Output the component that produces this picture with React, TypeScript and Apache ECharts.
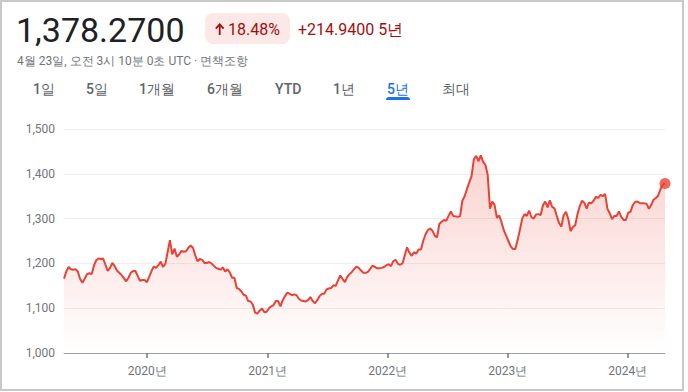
import React, { useEffect, useRef } from "react";
import * as echarts from "echarts";

// ---- data (weekly closes) ----
const startDate = "2019-04-23";
const stepDays = 7;
const closeValues = [
  1166, 1182, 1192, 1187, 1186, 1187, 1182, 1165, 1157, 1166,
  1176, 1178, 1176, 1195, 1207, 1211, 1210, 1211, 1197, 1183,
  1190, 1201, 1194, 1184, 1179, 1174, 1167, 1160, 1168, 1179,
  1183, 1183, 1172, 1161, 1163, 1163, 1158, 1170, 1183, 1193,
  1190, 1196, 1204, 1192, 1199, 1225, 1252, 1220, 1233, 1215,
  1220, 1228, 1226, 1227, 1235, 1240, 1235, 1218, 1205, 1210,
  1208, 1201, 1201, 1203, 1200, 1195, 1190, 1188, 1186, 1191,
  1182, 1187, 1180, 1168, 1168, 1145, 1143, 1138, 1130, 1128,
  1116, 1115, 1108, 1090, 1088, 1095, 1099, 1091, 1092, 1100,
  1104, 1107, 1116, 1116, 1104, 1118, 1127, 1135, 1132, 1129,
  1131, 1129, 1121, 1117, 1116, 1115, 1118, 1125, 1116, 1111,
  1118, 1127, 1132, 1132, 1142, 1144, 1145, 1151, 1150, 1162,
  1173, 1165, 1158, 1170, 1176, 1181, 1187, 1193, 1190, 1184,
  1179, 1179, 1181, 1188, 1195, 1192, 1189, 1189, 1190, 1192,
  1196, 1198, 1194, 1205, 1208, 1199, 1197, 1200, 1218, 1236,
  1224, 1217, 1225, 1222, 1231, 1231, 1250, 1265, 1274, 1278,
  1273, 1262, 1258, 1288, 1293, 1297, 1295, 1306, 1316, 1306,
  1305, 1304, 1305, 1340, 1350, 1366, 1381, 1395, 1433, 1440,
  1428, 1441, 1427, 1420, 1398, 1322, 1338, 1330, 1302, 1307,
  1292, 1274, 1262, 1250, 1238, 1232, 1232, 1252, 1275, 1300,
  1310, 1306, 1318, 1303, 1300, 1309, 1310, 1308, 1330, 1338,
  1325, 1341, 1326, 1323, 1306, 1290, 1282, 1308, 1315, 1299,
  1272, 1281, 1285, 1310, 1328, 1340, 1335, 1322, 1336, 1334,
  1340, 1349, 1346, 1353, 1350, 1355, 1322, 1312, 1299, 1306,
  1306, 1316, 1304, 1297, 1297, 1313, 1315, 1330, 1337, 1338,
  1335, 1334, 1334, 1333, 1322, 1330, 1342, 1346, 1351, 1365,
  1376, 1378.27,
];
const yearTickDates = ["2020-01-01", "2021-01-01", "2022-01-01", "2023-01-01", "2024-01-01"];
const yearTickLabels = ["2020년", "2021년", "2022년", "2023년", "2024년"];
const yMin = 1000;
const yMax = 1500;
const yStep = 100;

const lastPriceText = "1,378.2700";
const changePctText = "18.48%";
const changeAbsText = "+214.9400";
const periodText = "5년";
const timestampText = "4월 23일, 오전 3시 10분 0초 UTC · 면책조항";
const rangeTabs = ["1일", "5일", "1개월", "6개월", "YTD", "1년", "5년", "최대"];
const selectedTab = "5년";

const FONT = "Roboto, Arial, sans-serif";

export default function App() {
  const ref = useRef<HTMLDivElement>(null);

  useEffect(() => {
    document.body.style.margin = "0";
    if (!ref.current) return;
    const chart = echarts.init(ref.current, undefined, { renderer: "svg" });

    const t0 = Date.parse(startDate + "T00:00:00Z");
    const day = 86400000;
    const seriesData = closeValues.map((v, i) => [t0 + i * stepDays * day, v]);
    const last = seriesData[seriesData.length - 1];
    const tickTs = yearTickDates.map((d) => Date.parse(d + "T00:00:00Z"));

    const tabX = [33, 86, 139, 207, 275, 333, 387, 442];
    const tabGraphics: any[] = rangeTabs.map((t, i) => ({
      type: "text",
      x: tabX[i],
      y: 89,
      style: {
        text: t,
        fontFamily: FONT,
        fontSize: 14,
        fontWeight: 500,
        fill: t === selectedTab ? "#1a73e8" : "#5f6368",
        verticalAlign: "middle",
      },
    }));

    chart.setOption({
      animation: false,
      grid: { left: 64, right: 23, top: 129, bottom: 39, outerBoundsMode: "none" },
      xAxis: {
        type: "value",
        min: seriesData[0][0],
        max: last[0],
        axisLine: { show: true, lineStyle: { color: "#9aa0a6", width: 1 } },
        axisTick: {
          show: true,
          length: 5,
          customValues: tickTs,
          lineStyle: { color: "#70757a", width: 1.5 },
        },
        axisLabel: {
          customValues: tickTs,
          margin: 12,
          color: "#70757a",
          fontFamily: FONT,
          fontSize: 12,
          formatter: (v: number) => {
            const idx = tickTs.indexOf(v);
            return idx >= 0 ? yearTickLabels[idx] : "";
          },
        },
        splitLine: { show: false },
      },
      yAxis: {
        type: "value",
        min: yMin,
        max: yMax,
        interval: yStep,
        axisLine: { show: false },
        axisTick: { show: false },
        axisLabel: {
          margin: 9,
          color: "#70757a",
          fontFamily: FONT,
          fontSize: 12,
          formatter: (v: number) => v.toLocaleString("en-US"),
        },
        splitLine: { show: true, lineStyle: { color: "#eeeeee", width: 1 } },
      },
      series: [
        {
          type: "line",
          data: seriesData,
          showSymbol: false,
          symbol: "none",
          lineStyle: { color: "#e94235", width: 2 },
          areaStyle: {
            color: new echarts.graphic.LinearGradient(0, 0, 0, 1, [
              { offset: 0, color: "rgba(234,67,53,0.34)" },
              { offset: 1, color: "rgba(234,67,53,0.0)" },
            ]),
          },
          z: 3,
        },
        {
          type: "scatter",
          data: [last],
          symbol: "circle",
          symbolSize: 11,
          clip: false,
          itemStyle: { color: "#e94235" },
          z: 4,
        },
      ],
      graphic: [
        {
          type: "rect",
          shape: { x: 1, y: 1, width: 682, height: 389 },
          style: { fill: "none", stroke: "#c8c8c8", lineWidth: 2 },
          silent: true,
        },
        {
          type: "text",
          x: 16,
          y: 30,
          style: {
            text: lastPriceText,
            fontFamily: FONT,
            fontSize: 34,
            fill: "#202124",
            verticalAlign: "middle",
          },
        },
        {
          type: "rect",
          shape: { x: 205, y: 13, width: 85, height: 31, r: 8 },
          style: { fill: "#fce8e6" },
        },
        {
          type: "line",
          shape: { x1: 219.7, y1: 24.5, x2: 219.7, y2: 35 },
          style: { stroke: "#a50e0e", lineWidth: 1.8 },
        },
        {
          type: "polyline",
          shape: { points: [[215.8, 28.6], [219.7, 24.3], [223.6, 28.6]] },
          style: { stroke: "#a50e0e", lineWidth: 1.8, fill: "none" },
        },
        {
          type: "text",
          x: 228,
          y: 29.5,
          style: {
            text: changePctText,
            fontFamily: FONT,
            fontSize: 16,
            fill: "#a50e0e",
            verticalAlign: "middle",
          },
        },
        {
          type: "text",
          x: 298,
          y: 29.5,
          style: {
            text: changeAbsText + " " + periodText,
            fontFamily: FONT,
            fontSize: 16,
            fill: "#a50e0e",
            verticalAlign: "middle",
          },
        },
        {
          type: "text",
          x: 17,
          y: 61,
          style: {
            text: timestampText,
            fontFamily: FONT,
            fontSize: 12,
            fill: "#70757a",
            verticalAlign: "middle",
          },
        },
        ...tabGraphics,
        {
          type: "rect",
          shape: { x: 386, y: 97, width: 24, height: 3, r: [3, 3, 0, 0] },
          style: { fill: "#1a73e8" },
        },
      ],
    });

    return () => chart.dispose();
  }, []);

  return (
    <div
      ref={ref}
      style={{ position: "fixed", left: 0, top: 0, width: 688, height: 392, background: "#fff" }}
    />
  );
}
